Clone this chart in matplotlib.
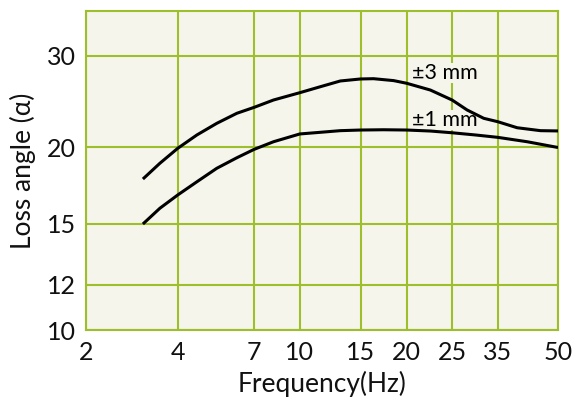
import matplotlib
matplotlib.use("Agg")
import matplotlib.pyplot as plt
import numpy as np

# axis grid values (the original axis is hand-spaced, not a true log axis)
freq_ticks = [2, 4, 7, 10, 15, 20, 25, 35, 50]
freq_pos = [0, 91.7, 168, 213.6, 274.3, 320.3, 365.7, 411.3, 471.5]
loss_ticks = [10, 12, 15, 20, 30]
loss_vals = [10, 12, 15, 20, 30, 35]
loss_pos = [0, 45, 106, 182.5, 274, 319]

# curve readings
freq_3mm = [3.24, 3.61, 4, 4.75, 5.53, 6.32, 7, 8.27, 10, 11.68, 13.33, 15, 16.41,
            18.59, 20, 22.61, 25, 28.29, 31.93, 35, 39.83, 45.64, 50]
loss_3mm = [17.94, 18.97, 19.95, 21.37, 22.64, 23.74, 24.39, 25.19, 25.99, 26.64, 27.27, 27.49, 27.52,
            27.31, 27.02, 26.28, 25.19, 24.1, 23.19, 22.82, 22.16, 21.84, 21.81]

freq_1mm = [3.24, 3.61, 4, 4.75, 5.53, 6.32, 7, 8.27, 10, 11.68, 13.33, 15, 17.5,
            20, 22.61, 25, 30.11, 35, 42.33, 50]
loss_1mm = [15.0, 16.03, 16.9, 17.76, 18.64, 19.33, 19.88, 20.63, 21.48, 21.66, 21.84, 21.91, 21.94,
            21.91, 21.8, 21.61, 21.37, 21.11, 20.63, 20.0]

BG = "#f5f5eb"
GRID = "#9dbf2b"
FONT = ["Lato", "DejaVu Sans"]

plt.rcParams["font.family"] = FONT


def fwd_x(v):
    return np.interp(v, freq_ticks, freq_pos)


def inv_x(p):
    return np.interp(p, freq_pos, freq_ticks)


def fwd_y(v):
    return np.interp(v, loss_vals, loss_pos)


def inv_y(p):
    return np.interp(p, loss_pos, loss_vals)


fig = plt.figure(figsize=(5.87, 4.03), dpi=100)
ax = fig.add_axes([86 / 587, 1 - 330 / 403, (558 - 86) / 587, (330 - 11) / 403])
ax.set_facecolor(BG)

ax.set_xscale("function", functions=(fwd_x, inv_x))
ax.set_yscale("function", functions=(fwd_y, inv_y))
ax.set_xlim(2, 50)
ax.set_ylim(10, 35)

ax.set_xticks(freq_ticks)
ax.set_xticklabels([str(t) for t in freq_ticks])
ax.set_yticks(loss_ticks)
ax.set_yticklabels([str(t) for t in loss_ticks])
ax.minorticks_off()
ax.tick_params(axis="both", length=0, labelsize=18, colors="#111111")
ax.tick_params(axis="x", pad=8)
ax.tick_params(axis="y", pad=7)

ax.set_axisbelow(True)
ax.grid(True, color=GRID, linewidth=1.5)
for s in ax.spines.values():
    s.set_color(GRID)
    s.set_linewidth(1.5)

ax.plot(freq_3mm, loss_3mm, color="black", linewidth=2.2, zorder=4,
        solid_capstyle="butt", solid_joinstyle="round")
ax.plot(freq_1mm, loss_1mm, color="black", linewidth=2.2, zorder=4,
        solid_capstyle="butt", solid_joinstyle="round")

box = dict(facecolor=BG, edgecolor="none", pad=0)
ax.text(20.6, 27.45, "±3 mm", fontsize=15.5, ha="left", va="baseline", bbox=box, zorder=3)
ax.text(20.6, 22.3, "±1 mm", fontsize=15.5, ha="left", va="baseline", bbox=box, zorder=3)

ax.set_xlabel("Frequency(Hz)", fontsize=19, labelpad=5, color="#111111")
ax.set_ylabel("Loss angle (α)", fontsize=19, labelpad=8, color="#111111")

fig.savefig("out.png", dpi=100, facecolor="white")
